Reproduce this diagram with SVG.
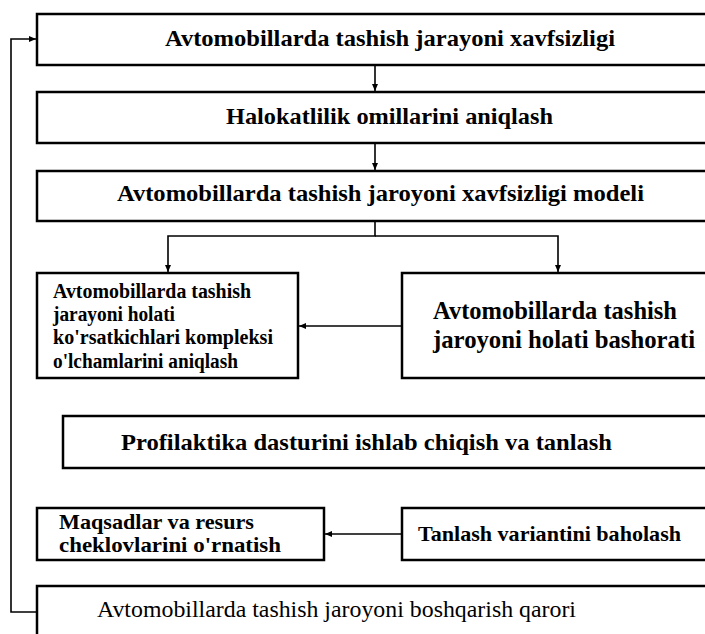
<svg xmlns="http://www.w3.org/2000/svg" width="705" height="634" viewBox="0 0 705 634">
<style>
.box{fill:#fff;stroke:#000;stroke-width:2.5}
.b{font-family:"Liberation Serif","Times New Roman",serif;font-weight:bold;fill:#000}
.n{font-family:"Liberation Serif","Times New Roman",serif;fill:#000}
.c{fill:none;stroke:#000;stroke-width:1.6}
</style>
<defs>
<marker id="ah" markerWidth="8" markerHeight="8" refX="7" refY="4" orient="auto" markerUnits="userSpaceOnUse">
<path d="M0,1 L7,4 L0,7 Z" fill="#000"/>
</marker>
</defs>
<g id="n1"><rect class="box" x="37" y="14" width="680" height="51"/><text class="b" x="165" y="46" font-size="24" textLength="450" lengthAdjust="spacingAndGlyphs">Avtomobillarda tashish jarayoni xavfsizligi</text></g>
<g id="n2"><rect class="box" x="37" y="92" width="680" height="51"/><text class="b" x="226" y="124" font-size="24" textLength="327" lengthAdjust="spacingAndGlyphs">Halokatlilik omillarini aniqlash</text></g>
<g id="n3"><rect class="box" x="37" y="171" width="680" height="50"/><text class="b" x="117" y="201" font-size="24" textLength="527" lengthAdjust="spacingAndGlyphs">Avtomobillarda tashish jaroyoni xavfsizligi modeli</text></g>
<g id="n4"><rect class="box" x="37" y="273" width="261" height="105"/>
<text class="b" x="53" y="298" font-size="20" textLength="198" lengthAdjust="spacingAndGlyphs">Avtomobillarda tashish</text>
<text class="b" x="53" y="321" font-size="20" textLength="122" lengthAdjust="spacingAndGlyphs">jarayoni holati</text>
<text class="b" x="53" y="344" font-size="20" textLength="220" lengthAdjust="spacingAndGlyphs">ko'rsatkichlari kompleksi</text>
<text class="b" x="53" y="368" font-size="20" textLength="185" lengthAdjust="spacingAndGlyphs">o'lchamlarini aniqlash</text></g>
<g id="n5"><rect class="box" x="402" y="273" width="320" height="105"/>
<text class="b" x="433" y="319" font-size="24.5" textLength="244" lengthAdjust="spacingAndGlyphs">Avtomobillarda tashish</text>
<text class="b" x="433" y="348" font-size="24.5" textLength="262" lengthAdjust="spacingAndGlyphs">jaroyoni holati bashorati</text></g>
<g id="n6"><rect class="box" x="63" y="416" width="660" height="52"/><text class="b" x="121" y="450" font-size="24" textLength="491" lengthAdjust="spacingAndGlyphs">Profilaktika dasturini ishlab chiqish va tanlash</text></g>
<g id="n7"><rect class="box" x="37" y="508" width="287" height="52"/>
<text class="b" x="59" y="529" font-size="22" textLength="195" lengthAdjust="spacingAndGlyphs">Maqsadlar va resurs</text>
<text class="b" x="59" y="552" font-size="22" textLength="222" lengthAdjust="spacingAndGlyphs">cheklovlarini o'rnatish</text></g>
<g id="n8"><rect class="box" x="402" y="508" width="320" height="52"/><text class="b" x="418" y="541" font-size="22" textLength="263" lengthAdjust="spacingAndGlyphs">Tanlash variantini baholash</text></g>
<g id="n9"><rect class="box" x="37" y="586" width="680" height="60"/><text class="n" x="97" y="617" font-size="24" textLength="479" lengthAdjust="spacingAndGlyphs">Avtomobillarda tashish jaroyoni boshqarish qarori</text></g>
<g id="connectors">
<line class="c" x1="375" y1="65" x2="375" y2="91" marker-end="url(#ah)"/>
<line class="c" x1="375" y1="143" x2="375" y2="170" marker-end="url(#ah)"/>
<polyline class="c" points="375,221 375,236 168,236 168,272" marker-end="url(#ah)"/>
<polyline class="c" points="375,236 558,236 558,272" marker-end="url(#ah)"/>
<line class="c" x1="402" y1="326" x2="299" y2="326" marker-end="url(#ah)"/>
<line class="c" x1="402" y1="534" x2="325" y2="534" marker-end="url(#ah)"/>
<polyline class="c" points="37,612 11,612 11,39 36,39" marker-end="url(#ah)"/>
</g>
</svg>
